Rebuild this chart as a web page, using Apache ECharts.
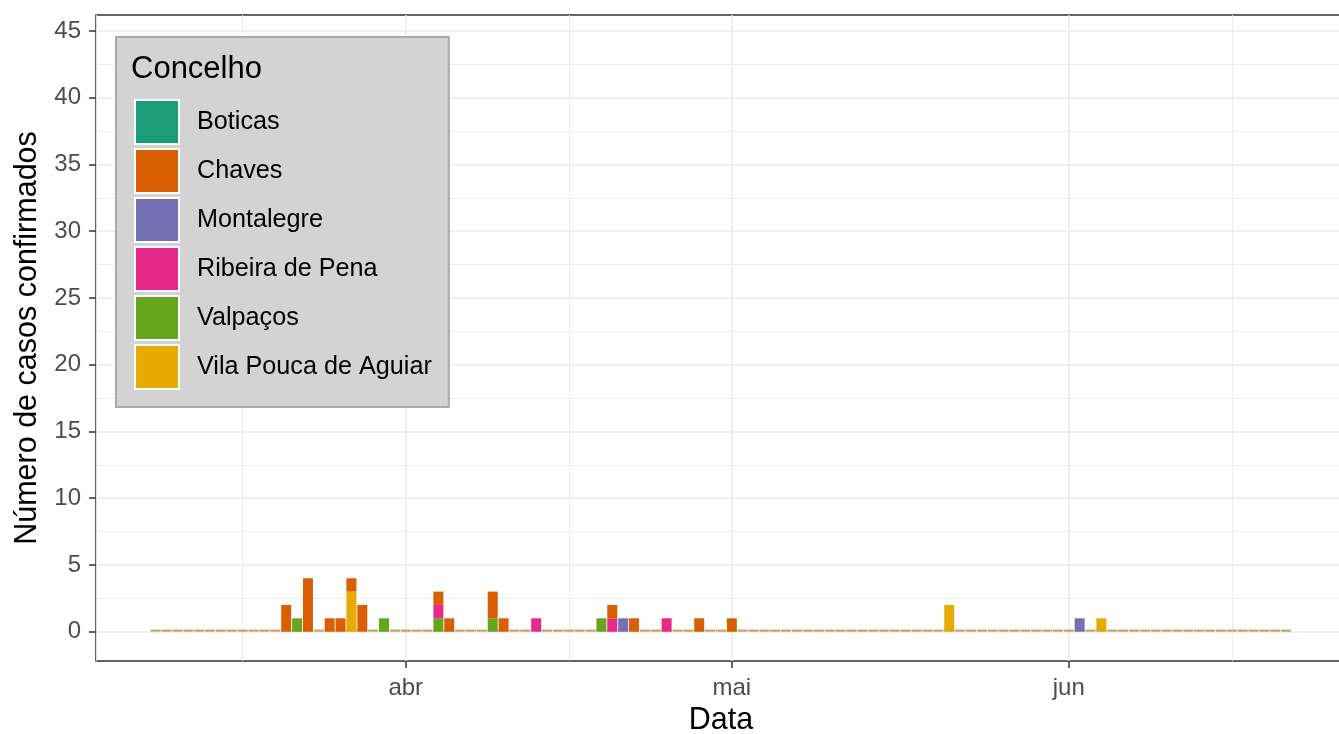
<!DOCTYPE html>
<html><head><meta charset="utf-8">
<script src="https://cdn.jsdelivr.net/npm/echarts@6/dist/echarts.min.js"></script>
<style>html,body{margin:0;padding:0;background:#fff}#c{width:1339px;height:734px}</style>
</head><body><div id="c"></div>
<script>
// ---- axis range and data range ----
const axisStart = '2020-03-04', axisEnd = '2020-06-26';
const dataStart = '2020-03-09', dataEnd = '2020-06-21';

// ---- categories (legend order) and colours ----
const concelhos = ['Boticas', 'Chaves', 'Montalegre', 'Ribeira de Pena', 'Valpaços', 'Vila Pouca de Aguiar'];
const colors = ['#1B9E77', '#D95F02', '#7570B3', '#E7298A', '#66A61E', '#E6AB02'];

// ---- daily confirmed cases (days not listed = 0) ----
const casosBoticas = {};
const casosChaves = {
  '2020-03-21': 2, '2020-03-23': 4, '2020-03-25': 1, '2020-03-26': 1, '2020-03-27': 1,
  '2020-03-28': 2, '2020-04-04': 1, '2020-04-05': 1, '2020-04-09': 2, '2020-04-10': 1,
  '2020-04-20': 1, '2020-04-22': 1, '2020-04-28': 1, '2020-05-01': 1
};
const casosMontalegre = { '2020-04-21': 1, '2020-06-02': 1 };
const casosRibeira = { '2020-04-04': 1, '2020-04-13': 1, '2020-04-20': 1, '2020-04-25': 1 };
const casosValpacos = { '2020-03-22': 1, '2020-03-30': 1, '2020-04-04': 1, '2020-04-09': 1, '2020-04-19': 1 };
const casosVilaPouca = { '2020-03-27': 3, '2020-05-21': 2, '2020-06-04': 1 };

// ---- tick labels ----
const xTickLabels = { '2020-04-01': 'abr', '2020-05-01': 'mai', '2020-06-01': 'jun' };
const xMinorCentre = ['2020-03-17', '2020-04-16', '2020-06-16'];
const xMinorBoundary = ['2020-05-17'];
const yTicks = [0, 5, 10, 15, 20, 25, 30, 35, 40, 45];

// ---- build ----
function dayList(a, b) {
  const out = [];
  let t = Date.parse(a + 'T00:00:00Z');
  const e = Date.parse(b + 'T00:00:00Z');
  while (t <= e) { out.push(new Date(t).toISOString().slice(0, 10)); t += 86400000; }
  return out;
}
const days = dayList(axisStart, axisEnd);
const inData = d => d >= dataStart && d <= dataEnd;
const seriesValues = {
  'Boticas': casosBoticas, 'Chaves': casosChaves, 'Montalegre': casosMontalegre,
  'Ribeira de Pena': casosRibeira, 'Valpaços': casosValpacos, 'Vila Pouca de Aguiar': casosVilaPouca
};
const yMinor = [];
for (let i = 0; i < yTicks.length - 1; i++) yMinor.push((yTicks[i] + yTicks[i + 1]) / 2);

const FONT = 'Liberation Sans';
const GRID_MAJOR = '#ebebeb';

const stackOrder = ['Vila Pouca de Aguiar', 'Valpaços', 'Ribeira de Pena', 'Montalegre', 'Chaves', 'Boticas'];
const series = [{
  name: 'zero', type: 'bar', z: 1, barGap: '-100%', barCategoryGap: '8%', barMinHeight: 2,
  itemStyle: { color: '#c89b5e' }, silent: true,
  data: days.map(d => inData(d) ? 0 : '-'),
  markLine: {
    silent: true, symbol: 'none', z: 1, animation: false,
    label: { show: false },
    lineStyle: { color: GRID_MAJOR, width: 0.9, type: 'solid' },
    emphasis: { disabled: true },
    data: yMinor.map(v => ({ yAxis: v }))
  }
}];
stackOrder.forEach(name => {
  const vals = seriesValues[name];
  series.push({
    name, type: 'bar', stack: 'total', z: 2, barGap: '-100%', barCategoryGap: '8%',
    itemStyle: { color: colors[concelhos.indexOf(name)] },
    data: days.map(d => inData(d) ? (vals[d] || 0) : '-')
  });
});

const chart = echarts.init(document.getElementById('c'));
chart.setOption({
  animation: false,
  textStyle: { fontFamily: FONT },
  title: {
    text: 'Concelho', left: 131, top: 54, padding: 0,
    textStyle: { fontFamily: FONT, fontSize: 31, fontWeight: 'normal', color: '#000' }
  },
  legend: {
    data: concelhos, orient: 'vertical', left: 116, top: 37,
    padding: [62, 17, 17, 18], itemWidth: 44, itemHeight: 44, itemGap: 3,
    icon: 'rect', selectedMode: false,
    backgroundColor: '#d3d3d3', borderColor: '#a9a9a9', borderWidth: 2,
    itemStyle: { borderColor: '#ffffff', borderWidth: 2 },
    textStyle: { fontFamily: FONT, fontSize: 25.2, color: '#000', padding: [0, 0, 0, 13] }
  },
  grid: {
    left: 96, top: 15, width: days.length * 10.869, height: 646,
    outerBoundsMode: 'none', containLabel: false,
    show: true, borderColor: '#333333', borderWidth: 1.5, backgroundColor: '#fff'
  },
  xAxis: [{
    type: 'category', data: days, position: 'bottom',
    name: 'Data', nameLocation: 'middle', nameGap: 44,
    nameTextStyle: { fontFamily: FONT, fontSize: 30.5, color: '#000' },
    axisLine: { show: false, onZero: false },
    axisTick: {
      show: true, alignWithLabel: true, length: 7,
      interval: (i, v) => !!xTickLabels[v],
      lineStyle: { color: '#333333', width: 1.5 }
    },
    axisLabel: {
      interval: (i, v) => !!xTickLabels[v],
      formatter: v => xTickLabels[v] || '',
      fontSize: 24, color: '#4d4d4d', margin: 15, fontFamily: FONT
    },
    splitLine: {
      show: true, alignWithLabel: true,
      interval: (i, v) => !!xTickLabels[v],
      lineStyle: { color: GRID_MAJOR, width: 1.6 }
    }
  }, {
    type: 'category', data: days, position: 'bottom',
    axisLine: { show: false, onZero: false }, axisTick: { show: false }, axisLabel: { show: false },
    splitLine: {
      show: true, alignWithLabel: true,
      interval: (i, v) => xMinorCentre.indexOf(v) >= 0,
      lineStyle: { color: GRID_MAJOR, width: 0.9 }
    }
  }, {
    type: 'category', data: days, position: 'bottom',
    axisLine: { show: false, onZero: false }, axisTick: { show: false }, axisLabel: { show: false },
    splitLine: {
      show: true, alignWithLabel: false,
      interval: (i, v) => xMinorBoundary.indexOf(v) >= 0,
      lineStyle: { color: GRID_MAJOR, width: 0.9 }
    }
  }],
  yAxis: {
    type: 'value', min: -2.2, max: 46.2, splitNumber: 9,
    name: 'Número de casos confirmados', nameLocation: 'middle', nameGap: 46,
    nameTextStyle: { fontFamily: FONT, fontSize: 30.5, color: '#000' },
    axisLine: { show: false },
    axisTick: { show: true, length: 7, customValues: yTicks, lineStyle: { color: '#333333', width: 1.5 } },
    axisLabel: {
      customValues: yTicks, fontSize: 24, color: '#4d4d4d', margin: 15, fontFamily: FONT,
      formatter: v => (yTicks.indexOf(v) >= 0 ? String(v) : '')
    },
    splitLine: { show: true, lineStyle: { color: GRID_MAJOR, width: 1.6 } }
  },
  series
});
</script></body></html>
